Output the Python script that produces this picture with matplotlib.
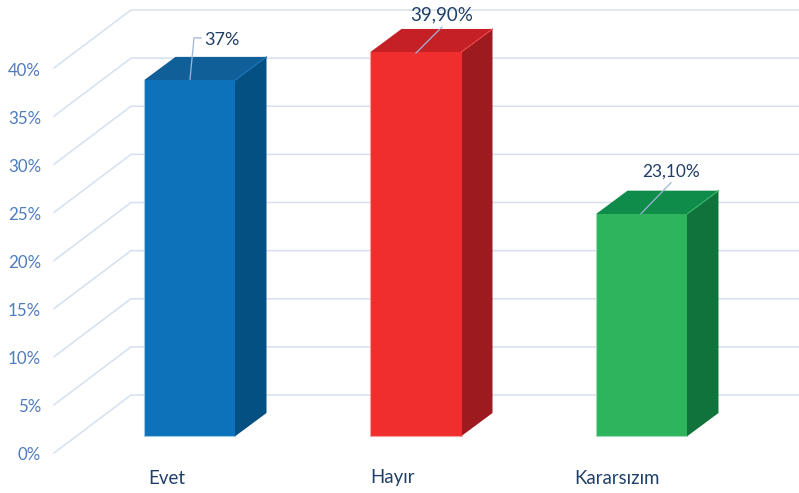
import matplotlib
matplotlib.use("Agg")
import matplotlib.pyplot as plt
from matplotlib.patches import Polygon

categories = ["Evet", "Hayır", "Kararsızım"]
values = [37, 39.9, 23.1]
value_labels = ["37%", "39,90%", "23,10%"]
ticks = [0, 5, 10, 15, 20, 25, 30, 35, 40]
tick_labels = ["0%", "5%", "10%", "15%", "20%", "25%", "30%", "35%", "40%"]

W, H = 799, 493
PX_X = 226.0     # px per category
PX_Y = 9.625     # px per percent
X0, Y0 = 190.0, 436.0
FAMILY = ["Lato", "DejaVu Sans"]

plt.rcParams["font.family"] = FAMILY
fig = plt.figure(figsize=(W / 100, H / 100), dpi=100)
ax = fig.add_axes([0, 0, 1, 1])
ax.set_xlim((0 - X0) / PX_X, (W - X0) / PX_X)
ax.set_ylim((Y0 - H) / PX_Y, Y0 / PX_Y)
ax.axis("off")

dx = lambda p: p / PX_X
dy = lambda p: p / PX_Y

GRID = "#D6E0EE"
TICK = "#4F7CBC"
LABEL = "#1F3F68"
LEAD = "#9DB6D6"

wall_l, wall_r = dx(54 - X0), dx(131 - X0)
right = dx(W - X0)
for t, lab in zip(ticks, tick_labels):
    front, back = t + dy(-17), t + dy(41)
    ax.plot([wall_l, wall_r, right], [front, back, back], color=GRID, lw=1.1, zorder=1,
            solid_joinstyle="miter")
    ax.text(dx(41 - X0), front + dy(-2.5), lab, ha="right", va="center", color=TICK,
            fontsize=12.2, zorder=5)

half = dx(45.5)
overlap = dx(1.5)
depth_x, depth_y = dx(31), dy(23)
colors = [("#0D72BA", "#115F99", "#055082", "#9CC6E6", "#1B74B8"),
          ("#F02E2E", "#C42026", "#9D1A1E", "#F8A0A0", "#F04848"),
          ("#2DB45D", "#0F8C4A", "#10733B", "#A0DDB5", "#38B868")]
leaders = [[(0, 0.5), (4, 42), (11, 42)], [(0, -1), (26, 25)], [(-1, 0), (29, 31)]]
text_pos = [(32, 39.5), (26, 37.5), (29.5, 42)]
sizes = [13.0, 13.5, 12.4]
cat_shift = [-23, -24, -25]

for i, (v, vl) in enumerate(zip(values, value_labels)):
    front_c, top_c, side_c, edge_c, edge2 = colors[i]
    l, r = i - half, i + half
    ax.add_patch(Polygon([(r - overlap, 0), (r, 0), (r + depth_x, depth_y), (r + depth_x, v + depth_y),
                          (r, v), (r - overlap, v)],
                         closed=True, fc=side_c, ec="none", zorder=3))
    ax.add_patch(Polygon([(l, v - dy(1)), (l, v), (l + depth_x, v + depth_y), (r + depth_x, v + depth_y),
                          (r, v), (r, v - dy(1))],
                         closed=True, fc=top_c, ec="none", zorder=3))
    ax.add_patch(Polygon([(l, 0), (r, 0), (r, v), (l, v)],
                         closed=True, fc=front_c, ec="none", zorder=4))
    ax.plot([l, l, r], [v, 0, 0], color=edge_c, lw=0.8, zorder=4.5)
    ax.plot([r, r + depth_x], [v, v + depth_y], color=edge2, lw=0.8, zorder=4.5)
    xs = [i + dx(p[0]) for p in leaders[i]]
    ys = [v + dy(p[1]) for p in leaders[i]]
    ax.plot(xs, ys, color=LEAD, lw=0.9, zorder=6, solid_joinstyle="miter")
    tx, ty = text_pos[i]
    ax.text(i + dx(tx), v + dy(ty), vl, ha="center", va="center", color=LABEL,
            fontsize=sizes[i], zorder=7)
    ax.text(i + dx(cat_shift[i]), dy(-42), categories[i], ha="center", va="center", color=LABEL,
            fontsize=13.4, zorder=7)

fig.savefig("out.png", dpi=100)
